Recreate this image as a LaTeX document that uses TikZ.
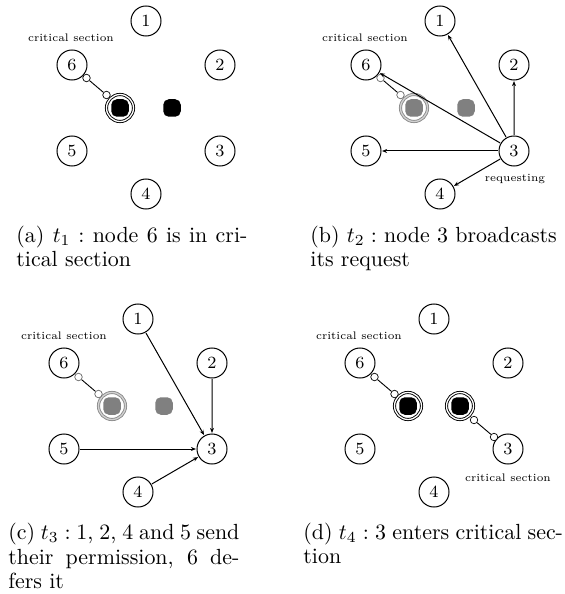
\documentclass[tikz,border=0pt]{standalone}
\usetikzlibrary{arrows.meta}
\tikzset{
  x=1bp,y=-1bp,
  proc/.style={circle,draw,line width=1bp,minimum size=13.64bp,inner sep=0pt,scale=2.2,transform shape,font=\fontsize{7.8}{9}\selectfont},
  note/.style={scale=1.83,transform shape,inner sep=0pt,font=\fontsize{6}{7}\selectfont},
  captext/.style={scale=2.2,transform shape,inner sep=0pt,anchor=base west,font=\fontsize{10}{12}\selectfont},
  msg/.style={line width=1bp,-{Stealth[length=5bp,width=4bp]},shorten >=0pt},
  tiny dot/.style={circle,draw=#1,fill=white,line width=0.7bp,minimum size=7.5bp,inner sep=0pt},
  tiny dot/.default=black,
  link/.style={draw=black,line width=0.9bp},
  ringmark/.style 2 args={circle,draw=#1,double=#2,double distance=1.3bp,line width=0.9bp,minimum size=27bp,inner sep=0pt},
  tokenbox/.style={rounded corners=5.5bp,fill=#1,minimum size=17.5bp,inner sep=0pt},
}
\newcommand{\ringnodes}{%
  \node[proc] (n6) at (0,0) {6};
  \node[proc] (n1) at (74,-44) {1};
  \node[proc] (n2) at (148,0) {2};
  \node[proc] (n3) at (148,86) {3};
  \node[proc] (n4) at (74,129) {4};
  \node[proc] (n5) at (0,86) {5};
}
\newcommand{\pairparts}[1]{%
  \node[tokenbox=#1] (t1) at (48,43) {};
  \node[tokenbox=#1] (t2) at (100,43) {};
}
\begin{document}
\begin{tikzpicture}
\useasboundingbox (0,0) rectangle (565,594);
% (a)
\begin{scope}[shift={(72,65)},name prefix=a-]
  \ringnodes
  \pairparts{black}
  \node[ringmark={black}{white}] (r) at (48,43) {};
  \node[tiny dot] (p) at (14.5,13) {};
  \node[tiny dot] (q) at (34.5,30) {};
  \draw[link] (p) -- (q);
  \node[note] (l) at (-1,-27) {critical section};
\end{scope}
\node[captext] (capa1) at (16,242) {\makebox[105bp][s]{(a) $t_1:$ node 6 is in cri-}};
\node[captext] (capa2) at (16,266) {tical section};
% (b)
\begin{scope}[shift={(366,65)},name prefix=b-]
  \ringnodes
  \pairparts{black!50}
  \node[ringmark={black!45}{black!18}] (r) at (48,43) {};
  \node[tiny dot=black!60] (p) at (14.5,13) {};
  \node[tiny dot=black!60] (q) at (34.5,30) {};
  \draw[link] (p) -- (q);
  \node[note] (l) at (-1,-27) {critical section};
  \node[note] (m) at (149,114) {requesting};
  \draw[msg] (n3) -- (n1);
  \draw[msg] (n3) -- (n2);
  \draw[msg] (n3) -- (n4);
  \draw[msg] (n3) -- (n5);
  \draw[msg] (n3) -- (n6);
\end{scope}
\node[captext] (capb1) at (310,242) {\makebox[112bp][s]{(b) $t_2:$ node 3 broadcasts}};
\node[captext] (capb2) at (310,266) {its request};
% (c)
\begin{scope}[shift={(64,363)},name prefix=c-]
  \ringnodes
  \pairparts{black!50}
  \node[ringmark={black!45}{black!18}] (r) at (48,43) {};
  \node[tiny dot=black!60] (p) at (14.5,14) {};
  \node[tiny dot=black!60] (q) at (34.5,31) {};
  \draw[link] (p) -- (q);
  \node[note] (l) at (0,-27) {critical section};
  \draw[msg] (n1) -- (n3);
  \draw[msg] (n2) -- (n3);
  \draw[msg] (n4) -- (n3);
  \draw[msg] (n5) -- (n3);
\end{scope}
\node[captext] (capc1) at (8,539) {\makebox[105bp][s]{(c) $t_3:$ 1, 2, 4 and 5 send}};
\node[captext] (capc2) at (8,564) {\makebox[105bp][s]{their permission, 6 de-}};
\node[captext] (capc3) at (8,588) {fers it};
% (d)
\begin{scope}[shift={(360,363)},name prefix=d-]
  \ringnodes
  \pairparts{black}
  \node[ringmark={black}{white}] (r) at (48,43) {};
  \node[ringmark={black}{white}] (rr) at (100,43) {};
  \node[tiny dot] (p) at (14.5,14) {};
  \node[tiny dot] (q) at (34.5,31) {};
  \draw[link] (p) -- (q);
  \node[tiny dot] (u) at (114,57) {};
  \node[tiny dot] (v) at (134,74) {};
  \draw[link] (u) -- (v);
  \node[note] (l) at (-1,-27) {critical section};
  \node[note] (m) at (148,115) {critical section};
\end{scope}
\node[captext] (capd1) at (303,539) {\makebox[118bp][s]{(d) $t_4:$ 3 enters critical sec-}};
\node[captext] (capd2) at (303,563) {tion};
\end{tikzpicture}
\end{document}
